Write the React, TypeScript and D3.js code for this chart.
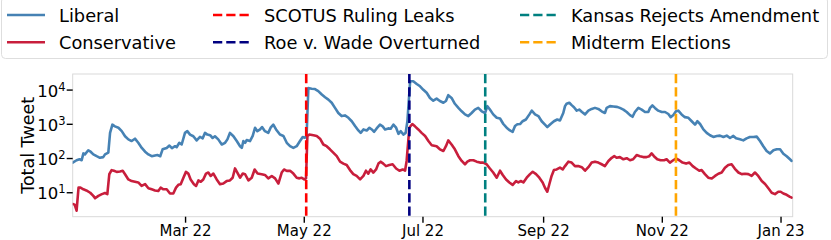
import React from "react";
import * as d3 from "d3";

// Day offsets from 2022-01-02 and daily tweet totals
const START_DATE = "2022-01-02";
const END_DATE = "2023-01-07";

const libDays = [0,2,3.5,4.6,5.5,6.3,8,9.2,10.6,12.3,14,15.7,16.6,18.3,19.2,20.4,21.7,23.5,25.2,26.9,28.6,30.3,32,33.7,35.5,37.2,38.9,40.6,42.3,43.5,45,46.2,48.3,49.7,51,52.6,53.4,54.8,56,57.7,58.9,60.3,62,63.7,65.4,66.8,68,69.2,70.6,71.9,73.1,74.8,76.6,78.3,79.5,80.8,82.6,84.3,86,86.9,87.7,88.6,89.4,91.1,92.5,93.7,94.9,96.3,97.3,98.8,100.5,101.7,103.1,104.5,106.5,108.3,110,111.7,113.4,115.1,116.8,118.2,119.4,120.2,121.1,122.8,124.5,126.2,128,129.7,131.4,133.1,134.8,136.5,138.2,139.9,141.7,143.4,145.1,146.8,148,149.4,151.1,152.5,153.7,154.9,156.2,157.9,159.3,160.5,162.2,163.4,164.8,166.2,167.4,168.6,169.9,171.1,172,173.4,175,176.8,178.5,180.2,181.9,183.6,185.3,187,188.7,190.5,191.8,193,194.7,196.4,198.2,199.9,201.6,203.3,205,206.7,208.4,210.2,211.9,213.1,214.4,216.1,217.9,219.6,221.3,223,224.7,226.1,227.3,228.5,229.9,231.2,232.9,234.7,235.9,237.6,239.3,241,242.7,243.9,245.6,247.3,249,250.4,252.1,253,253.8,255.2,256.4,257.6,259,260.3,261.7,263.3,265,266.7,268.4,270.1,271.8,273.5,274.4,276.1,277.8,279.5,281.2,283,284.7,286.4,287.7,288.9,290.7,292.4,294.1,295.8,296.7,297.9,299.2,300.9,302.7,304.4,306.1,307.3,308.7,310,311.2,312.9,314.6,316.4,318.1,319.8,321,322.4,324.1,325.8,327.5,329.2,331,332.6,334.4,336.1,337.8,339.5,340.9,342.9,344.6,346.3,348,349.8,351.5,353.2,354.9,356.6,358.3,360.1,361.8,363.5,365.2,366.9,368.6,369.5];
const libVals = [76,89,95,89,141,132,174,158,132,117,105,110,132,148,562,977,871,794,631,447,363,324,380,288,204,158,132,117,123,126,117,186,204,240,200,229,214,288,257,562,631,501,447,339,427,389,562,501,479,398,447,363,257,288,363,562,447,324,229,204,324,288,347,324,457,794,631,708,832,631,562,794,977,708,501,457,288,229,204,229,324,427,407,457,11480,10960,10700,9330,7410,6170,5250,4270,3020,2140,1740,1820,1550,1230,891,661,562,708,661,794,708,603,759,977,871,708,759,741,977,794,525,631,501,562,1230,18200,18200,15100,12900,10200,8320,5890,4900,5620,4790,4270,4790,7080,5890,3980,3020,2400,1950,1740,2140,2690,3020,2400,2140,3390,2690,1950,1550,1480,1020,794,661,603,891,1000,1020,1230,1380,1950,2510,1950,1740,1230,977,832,1020,1230,1380,1290,2140,3390,3980,4270,3630,3160,2510,2690,2290,1950,2510,2820,3020,2820,2400,2140,3020,3390,3310,3240,3020,2690,2290,1860,1660,2290,3020,2690,2290,2290,3020,3550,3020,2510,2290,2290,2000,1620,1860,2400,2510,1950,1620,1550,1230,977,1230,1020,708,562,479,427,457,468,427,468,398,457,389,363,339,389,427,427,437,324,229,166,141,174,186,186,138,117,95,85];

const conDays = [0,1,2,3,4,5.5,7,9,10.6,11.5,13.2,15,16.6,17.8,18.8,20,21.2,22.6,24.3,25.7,26.9,28.6,30.3,32,33.7,35.4,37.2,38.9,40.6,42.3,44,45.2,46.6,48.3,50,51.7,53.1,54.3,55.5,56.9,58.2,59.4,60.6,62.3,63.4,64.6,65.8,67.1,68.5,69.7,70.9,72.3,74,75.7,77.4,79.1,80.8,82.2,83.4,84.6,86,87.4,88.6,90.3,92,93.5,95,97.1,98.8,100.5,102.3,104,105.7,107.4,108.6,110,111.7,113.4,115.1,116.5,117.7,119,119.9,120.6,121.6,123.7,125.4,127.1,128.8,130.5,132.2,133.9,135.7,137.4,139.1,140.8,142.5,144.2,145.9,147.7,149.4,150.7,151.9,153.1,154.5,155.9,157.1,158.3,159.6,161,162.7,164.4,166.2,167.9,169.6,170.8,171.6,173,174.5,175.9,177.6,179.3,181.1,182.8,184.5,187,188.7,190.5,191.8,193,194.7,196.4,198.2,199.9,201.6,202.8,204.2,205.9,207.6,209.3,211,212.7,214.4,216.1,217.9,219.6,221,222.7,224.4,226.1,227.8,229,230.2,231.6,233.3,235,236.4,238.1,239.8,241.5,242.7,243.9,244.9,246.1,247.3,248.7,250.4,251.8,253,254.7,256.4,258.1,259.8,261.6,263.3,265,266.7,268.4,270.1,271.8,273.5,275.3,277,278.3,279.5,281.2,283,284.7,286.4,288,289.8,291.5,293.2,294.9,296.3,297.5,298.7,300.4,302.1,303.9,305.2,306.9,308.6,310,311.7,313.4,315.2,316.9,318.6,320.3,322,323.2,324.9,326.6,328.4,330.1,331.8,333.5,335.2,336.9,338.6,340.3,342.1,343.8,345.5,347.2,348.9,350.6,352.3,354.1,355.8,357.5,359.2,360.9,362.6,363.8,365.2,366.9,368.6,369.5];
const conVals = [4.7,4.5,3.0,14.1,14.1,12.6,11.7,10,8.1,6.9,8.1,9.1,9.8,9.1,34.7,45.7,43.7,40.7,41.7,43.7,34.7,24.5,21.9,20.9,20,15.8,17.8,13.5,12.6,11.7,11.2,14.1,12.6,12.6,9.5,9.5,14.1,17,17.8,27.5,40.7,36.3,24.5,17.8,15.8,22.9,20.9,24.5,36.3,38.9,30.9,36.3,24.5,17.8,18.6,21.9,22.9,27.5,51.3,38.9,27.5,36.3,34.7,22.9,27.5,47.9,36.3,34.7,33.1,26.3,30.9,26.3,18.6,38.9,47.9,43.7,43.7,36.3,27.5,26.3,27.5,24.5,26.3,457,501,479,457,380,257,229,186,148,117,81,71,65,46,35,31,24.5,31,44,36,48,39,48,71,81,71,60,65,68,51,44,48,44,85,794,1020,871,708,562,457,324,245,229,186,166,229,339,257,186,117,85,68,81,89,89,81,76,76,68,51,39,27.5,44,33,24.5,20,17,22,20,22,20,27.5,35,41,35,27.5,20,14,10.7,17.4,31,46,48,54,48,60,81,76,60,60,56,44,56,76,81,76,68,60,85,105,117,105,110,95,102,89,95,126,117,110,110,117,141,117,95,89,89,95,76,89,100,89,76,71,76,60,51,44,46,35,27.5,26,31,36,39,54,65,68,50,39,35,36,35,31,39,31,22,18,13.5,10,9.1,10.7,10.7,9.5,8.7,7.6,7.2];

const seriesNames = ["Liberal", "Conservative"];
const seriesColors = ["#4682b4", "#c81e3c"];

const eventNames = ["SCOTUS Ruling Leaks", "Roe v. Wade Overturned", "Kansas Rejects Amendment", "Midterm Elections"];
const eventDates = ["2022-05-02", "2022-06-24", "2022-08-02", "2022-11-08"];
const eventColors = ["#ff0000", "#000080", "#008080", "#ffa500"];

const xTickDates = ["2022-03-01", "2022-05-01", "2022-07-01", "2022-09-01", "2022-11-01", "2023-01-01"];
const yTickExps = [1, 2, 3, 4];

const parse = d3.timeParse("%Y-%m-%d");
const fmt = d3.timeFormat("%b %y");
const FONT = "DejaVu Sans, sans-serif";

export default function App() {
  const W = 831, H = 240;
  const left = 72.7, right = 792.7, top = 74, bottom = 216.7;
  const start = parse(START_DATE)!;
  const end = parse(END_DATE)!;
  const x = d3.scaleTime().domain([start, end]).range([left, right]);
  const y = d3.scaleLog().domain([Math.pow(10, 0.3), Math.pow(10, 4.47)]).range([bottom, top]);
  const toDate = (d: number) => new Date(start.getTime() + d * 86400000);

  const line = d3.line<[number, number]>()
    .x((p) => x(toDate(p[0])))
    .y((p) => y(p[1]));

  const series = [
    libDays.map((d, i) => [d, libVals[i]] as [number, number]),
    conDays.map((d, i) => [d, conVals[i]] as [number, number]),
  ];

  const legendCols = [
    { lx: 7, tx: 59 },
    { lx: 213, tx: 264 },
    { lx: 520, tx: 571 },
  ];
  const legendRows = [15, 42.3];
  const legendItems = [
    { name: seriesNames[0], color: seriesColors[0], dash: false },
    { name: seriesNames[1], color: seriesColors[1], dash: false },
    ...eventNames.map((n, i) => ({ name: n, color: eventColors[i], dash: true })),
  ];

  return (
    <div style={{ position: "absolute", left: 0, top: 0 }}>
      <svg width={W} height={H} style={{ display: "block", background: "#fff" }} fontFamily={FONT}>
        <defs>
          <clipPath id="plotclip">
            <rect x={left} y={top} width={right - left} height={bottom - top} />
          </clipPath>
        </defs>

        {/* legend */}
        <rect x={1.5} y={-3} width={826} height={61.5} rx={4} fill="#fff" stroke="#dedede" strokeWidth={1} />
        {legendItems.map((it, i) => {
          const col = legendCols[Math.floor(i / 2)];
          const ry = legendRows[i % 2];
          return (
            <g key={it.name}>
              <line x1={col.lx} x2={col.lx + 38} y1={ry} y2={ry} stroke={it.color} strokeWidth={2.6}
                strokeDasharray={it.dash ? "9.25 4" : undefined} />
              <text x={col.tx} y={ry + 7} fontSize={17.8} fill="#000">{it.name}</text>
            </g>
          );
        })}

        {/* frame */}
        <rect x={left} y={top} width={right - left} height={bottom - top} fill="none" stroke="#d9d9d9" strokeWidth={1} />

        {/* series */}
        <g clipPath="url(#plotclip)">
          {series.map((s, i) => (
            <path key={seriesNames[i]} d={line(s) || ""} fill="none" stroke={seriesColors[i]} strokeWidth={2.6}
              strokeLinejoin="round" strokeLinecap="round" />
          ))}
          {eventDates.map((ds, i) => {
            const ex = x(parse(ds)!);
            return (
              <line key={ds} x1={ex} x2={ex} y1={top} y2={bottom} stroke={eventColors[i]} strokeWidth={2.6}
                strokeDasharray="9.25 4" />
            );
          })}
        </g>

        {/* x ticks */}
        {xTickDates.map((ds) => {
          const dt = parse(ds)!;
          const tx = x(dt);
          return (
            <g key={ds}>
              <line x1={tx} x2={tx} y1={bottom} y2={bottom + 6} stroke="#000" strokeWidth={1.4} />
              <text x={tx} y={235.7} textAnchor="middle" fontSize={15} fill="#000">{fmt(dt)}</text>
            </g>
          );
        })}

        {/* y ticks */}
        {yTickExps.map((e) => {
          const ty = y(Math.pow(10, e));
          return (
            <g key={e}>
              <line x1={left - 6} x2={left} y1={ty} y2={ty} stroke="#000" strokeWidth={1.4} />
              <text x={left - 7} y={ty + 6.7} textAnchor="end" fontSize={16.5} fill="#000">
                <tspan>10</tspan>
                <tspan fontSize={11.5} dy={-6.2}>{e}</tspan>
              </text>
            </g>
          );
        })}

        {/* y label */}
        <text transform={`translate(34,${(top + bottom) / 2}) rotate(-90)`} textAnchor="middle" fontSize={17.5} fill="#000">
          Total Tweet
        </text>
      </svg>
    </div>
  );
}
